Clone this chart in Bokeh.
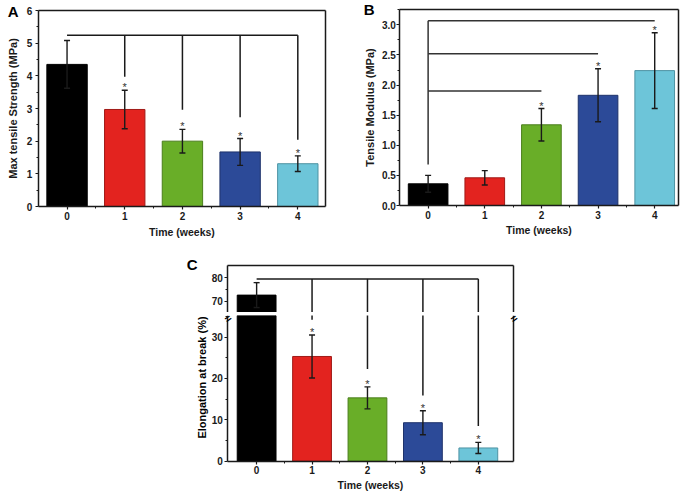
import math
from bokeh.plotting import figure
from bokeh.models import (ColumnDataSource, FixedTicker, PrintfTickFormatter,
                          LinearAxis, Label, Range1d, Spacer)
from bokeh.layouts import row, column
from bokeh.embed import file_html
from bokeh.resources import INLINE
from bokeh.core.properties import value

# ---------------- data ----------------
weeks = [0, 1, 2, 3, 4]
bar_colors = ["#000000", "#E3231F", "#69AE28", "#2C4A98", "#6DC5D9"]
edge_colors = ["#000000", "#A01A17", "#4B7E1C", "#1F336B", "#4E93A3"]

# A: Max tensile strength (MPa)
strength = [4.35, 2.97, 2.00, 1.67, 1.31]
strength_err = [0.73, 0.59, 0.36, 0.41, 0.24]
strength_sig = [1, 2, 3, 4]
strength_bracket_top = 5.24
strength_bracket_ends = [3.97, 2.96, 2.73, 2.04]
strength_yticks = [0, 1, 2, 3, 4, 5, 6]
strength_yminor = [0.5, 1.5, 2.5, 3.5, 4.5, 5.5]

# B: Tensile modulus (MPa)
modulus = [0.36, 0.46, 1.34, 1.83, 2.24]
modulus_err = [0.14, 0.12, 0.27, 0.44, 0.63]
modulus_sig = [2, 3, 4]
modulus_bracket_levels = [1.90, 2.52, 3.07]
modulus_bracket_base = 0.68
modulus_yticks = [0, 0.5, 1.0, 1.5, 2.0, 2.5, 3.0]
modulus_yminor = [0.25, 0.75, 1.25, 1.75, 2.25, 2.75, 3.25]

# C: Elongation at break (%)
elong = [72.7, 25.3, 15.3, 9.3, 3.2]
elong_err = [5.3, 5.2, 2.65, 2.9, 1.35]
elong_sig = [1, 2, 3, 4]
elong_bracket_top = 79.6
elong_bracket_ends = [34.2, 22.3, 15.9, 8.5]
elong_yticks_low = [0, 10, 20, 30]
elong_yminor_low = [5, 15, 25, 35]
elong_yticks_high = [70, 80]
elong_yminor_high = [75]

x_minor = [0.5, 1.5, 2.5, 3.5]

FONT = "Liberation Sans"
INK = "#1a1a1a"


def src(vals, errs):
    return ColumnDataSource(dict(
        x=weeks, top=vals, lo=[v - e for v, e in zip(vals, errs)],
        hi=[v + e for v, e in zip(vals, errs)],
        fill=bar_colors, edge=edge_colors))


def make_fig(w, h, pad, xr, yr, bt=0, bb=0):
    """pad = (left, right, top, bottom) pixels around the plotting box,
    inside a frame that fills the canvas (minus bt/bb borders)."""
    left, right, top, bottom = pad
    fh = h - bt - bb
    pxx = (w - left - right) / (xr[1] - xr[0])
    pxy = (fh - top - bottom) / (yr[1] - yr[0])
    p = figure(width=w, height=h,
               x_range=Range1d(xr[0] - left / pxx, xr[1] + right / pxx),
               y_range=Range1d(yr[0] - bottom / pxy, yr[1] + top / pxy),
               output_backend="svg", toolbar_location=None,
               x_axis_location=None, y_axis_location=None,
               min_border_left=0, min_border_right=0,
               min_border_top=bt, min_border_bottom=bb)
    p.grid.visible = False
    p.outline_line_color = None
    p.background_fill_color = "white"
    p.border_fill_color = "white"
    return p


def add_axis(p, side, loc, bounds, ticks=(), minor=(), label=None,
             label_size="11px", label_standoff=4, tick_standoff=2,
             formatter=None):
    ax = LinearAxis(fixed_location=loc, bounds=bounds,
                    ticker=FixedTicker(ticks=list(ticks), minor_ticks=list(minor)),
                    axis_line_width=1.5, axis_line_color=INK,
                    major_tick_line_color=INK, minor_tick_line_color=INK,
                    major_tick_line_width=1.2, minor_tick_line_width=1.0,
                    major_tick_in=0, major_tick_out=3 if ticks else 0,
                    minor_tick_in=0, minor_tick_out=2 if minor else 0,
                    major_label_standoff=tick_standoff,
                    major_label_text_font=FONT,
                    major_label_text_font_style="bold",
                    major_label_text_font_size="10px" if ticks else "0px",
                    major_label_text_color=INK)
    if formatter is not None:
        ax.formatter = formatter
    if label:
        ax.axis_label = label
        ax.axis_label_text_font = FONT
        ax.axis_label_text_font_style = "bold"
        ax.axis_label_text_font_size = label_size
        ax.axis_label_text_color = INK
        ax.axis_label_standoff = label_standoff
    p.add_layout(ax, side)
    return ax


def draw_bars(p, s, star_idx, star_pad):
    p.vbar(x="x", top="top", bottom=0, width=0.7, source=s,
           fill_color="fill", line_color="edge", line_width=1)
    p.segment(x0="x", y0="lo", x1="x", y1="hi", source=s,
              line_color=INK, line_width=1.4)
    p.scatter(x="x", y="hi", source=s, marker="dash", size=6,
              line_color=INK, line_width=1.4)
    p.scatter(x="x", y="lo", source=s, marker="dash", size=6,
              line_color=INK, line_width=1.4)
    if star_idx:
        hi = s.data["hi"]
        p.text(x=[weeks[i] for i in star_idx],
               y=[hi[i] + star_pad for i in star_idx],
               text=["*"] * len(star_idx),
               text_font=value(FONT), text_font_size="11px",
               text_color="#333333", text_align="center",
               text_baseline="alphabetic")


def text_label(p, txt, x, y, dx, dy, size="15px", baseline="top",
               align="left", angle=0.0):
    p.add_layout(Label(x=x, y=y, text=txt, x_offset=dx, y_offset=dy,
                       angle=angle, text_font=FONT, text_font_style="bold",
                       text_font_size=size, text_color="#000000",
                       text_align=align, text_baseline=baseline))


# ---------------- panel A ----------------
xA, yA = (-0.5, 4.48), (0, 6)
pA = make_fig(345, 250, (37.7, 20, 10, 44), xA, yA)
add_axis(pA, "below", yA[0], xA, weeks, x_minor, "Time (weeks)", "10.5px", 3, 2)
add_axis(pA, "left", xA[0], yA, strength_yticks, strength_yminor,
         "Max tensile Strength (MPa)", "11px", 5, 3)
add_axis(pA, "above", yA[1], xA)
add_axis(pA, "right", xA[1], yA)
sA = src(strength, strength_err)
pA.segment(x0=[weeks[0]], y0=[strength_bracket_top], x1=[weeks[4]],
           y1=[strength_bracket_top], line_color=INK, line_width=1.5)
pA.segment(x0=[weeks[i] for i in strength_sig], y0=strength_bracket_top,
           x1=[weeks[i] for i in strength_sig], y1=strength_bracket_ends,
           line_color=INK, line_width=1.5)
draw_bars(pA, sA, strength_sig, 0.09)
text_label(pA, "A", xA[0], yA[1], -30.5, 8)

# ---------------- panel B ----------------
xB, yB = (-0.5, 4.42), (0, 3.25)
pB = make_fig(344, 250, (54.3, 11, 9.3, 45), xB, yB)
add_axis(pB, "below", yB[0], xB, weeks, x_minor, "Time (weeks)", "10.5px", 2, 2)
add_axis(pB, "left", xB[0], yB, modulus_yticks, modulus_yminor,
         "Tensile Modulus (MPa)", "11px", 3, 1,
         formatter=PrintfTickFormatter(format="%.1f"))
add_axis(pB, "above", yB[1], xB)
add_axis(pB, "right", xB[1], yB)
sB = src(modulus, modulus_err)
pB.segment(x0=[weeks[0]] * 3, y0=modulus_bracket_levels,
           x1=[weeks[i] for i in modulus_sig], y1=modulus_bracket_levels,
           line_color="#333333", line_width=1.5)
pB.segment(x0=[weeks[0]], y0=[modulus_bracket_base], x1=[weeks[0]],
           y1=[max(modulus_bracket_levels)], line_color="#333333", line_width=1.5)
draw_bars(pB, sB, modulus_sig, 0.05)
text_label(pB, "B", xB[0], yB[1], -36, 9)

# ---------------- panel C (broken y axis) ----------------
xC = (-0.52, 4.64)
yC_high = (65.3, 85.3)
yC_low = (0, 35.2)

pCt = make_fig(343, 62, (47.3, 9.7, 15, 0), xC, yC_high)
add_axis(pCt, "left", xC[0], yC_high, elong_yticks_high, elong_yminor_high,
         tick_standoff=2)
add_axis(pCt, "above", yC_high[1], xC)
add_axis(pCt, "right", xC[1], yC_high)

pCb = make_fig(343, 184, (47.3, 9.7, 0, 35.3), xC, yC_low, bt=3)
add_axis(pCb, "below", yC_low[0], xC, weeks, x_minor, "Time (weeks)", "10.5px", 1, 2)
add_axis(pCb, "left", xC[0], yC_low, elong_yticks_low, elong_yminor_low,
         tick_standoff=2)
add_axis(pCb, "right", xC[1], yC_low)

sC = src(elong, elong_err)
for p, stars in ((pCt, []), (pCb, elong_sig)):
    p.segment(x0=[weeks[0]], y0=[elong_bracket_top], x1=[weeks[4]],
              y1=[elong_bracket_top], line_color=INK, line_width=1.5)
    p.segment(x0=[weeks[i] for i in elong_sig], y0=elong_bracket_top,
              x1=[weeks[i] for i in elong_sig], y1=elong_bracket_ends,
              line_color=INK, line_width=1.5)
    draw_bars(p, sC, stars, 0.7)

text_label(pCt, "C", xC[0], yC_high[1], -41, 1, baseline="middle")
text_label(pCb, "Elongation at break (%)", xC[0], yC_low[1], -26, -62,
           size="11px", baseline="middle", align="center", angle=math.pi / 2)
for bx in xC:
    text_label(pCb, "=", bx, yC_low[1], 0, -3, size="11px",
               baseline="middle", align="center", angle=0.6)

layout = column(
    row(pA, pB),
    row(Spacer(width=180, height=246), column(pCt, pCb)),
)

open("out.html", "w").write(file_html(layout, INLINE))
